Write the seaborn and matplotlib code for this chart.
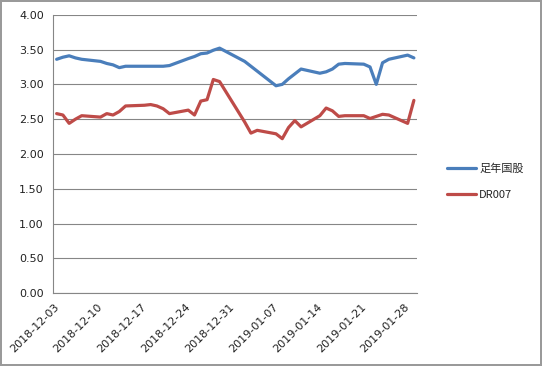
import matplotlib
matplotlib.use("Agg")
import matplotlib.pyplot as plt
import matplotlib.dates as mdates
import pandas as pd
import seaborn as sns

dates = [
    "2018-12-03", "2018-12-04", "2018-12-05", "2018-12-06", "2018-12-07",
    "2018-12-10", "2018-12-11", "2018-12-12", "2018-12-13", "2018-12-14",
    "2018-12-17", "2018-12-18", "2018-12-19", "2018-12-20", "2018-12-21",
    "2018-12-24", "2018-12-25", "2018-12-26", "2018-12-27", "2018-12-28", "2018-12-29",
    "2019-01-02", "2019-01-03", "2019-01-04",
    "2019-01-07", "2019-01-08", "2019-01-09", "2019-01-10", "2019-01-11",
    "2019-01-14", "2019-01-15", "2019-01-16", "2019-01-17", "2019-01-18",
    "2019-01-21", "2019-01-22", "2019-01-23", "2019-01-24", "2019-01-25",
    "2019-01-28", "2019-01-29",
]

guogu = [
    3.36, 3.39, 3.41, 3.38, 3.36,
    3.33, 3.30, 3.28, 3.24, 3.26,
    3.26, 3.26, 3.26, 3.26, 3.27,
    3.37, 3.40, 3.44, 3.45, 3.49, 3.52,
    3.33, 3.26, 3.19,
    2.98, 3.00, 3.08, 3.15, 3.22,
    3.16, 3.18, 3.22, 3.29, 3.30,
    3.29, 3.25, 3.00, 3.31, 3.36,
    3.42, 3.38,
]

dr007 = [
    2.58, 2.56, 2.44, 2.50, 2.55,
    2.53, 2.58, 2.56, 2.61, 2.69,
    2.70, 2.71, 2.69, 2.65, 2.58,
    2.63, 2.56, 2.76, 2.78, 3.07, 3.04,
    2.46, 2.30, 2.34,
    2.29, 2.22, 2.38, 2.48, 2.39,
    2.55, 2.66, 2.62, 2.54, 2.55,
    2.55, 2.51, 2.54, 2.57, 2.56,
    2.44, 2.77,
]

series_names = ["足年国股", "DR007"]
colors = ["#4A7EBB", "#BE4B48"]
tick_dates = ["2018-12-03", "2018-12-10", "2018-12-17", "2018-12-24", "2018-12-31",
              "2019-01-07", "2019-01-14", "2019-01-21", "2019-01-28"]

# Excel date axis puts each day in the middle of its slot
day = pd.to_datetime(dates) + pd.Timedelta(hours=12)
df = pd.concat([
    pd.DataFrame({"date": day, "value": guogu, "series": series_names[0]}),
    pd.DataFrame({"date": day, "value": dr007, "series": series_names[1]}),
])

sns.set_style("white")
plt.rcParams["font.family"] = ["DejaVu Sans", "Noto Sans CJK SC"]

fig = plt.figure(figsize=(5.42, 3.66), dpi=100, edgecolor="#9a9a9a", linewidth=1.5)
ax = fig.add_axes([0.0987, 0.1986, 0.6707, 0.7612])

sns.lineplot(data=df, x="date", y="value", hue="series", hue_order=series_names,
             palette=colors, linewidth=2.3, ax=ax, legend=True)

grey = "#868686"
ax.set_ylim(0, 4)
ax.set_yticks([i * 0.5 for i in range(9)])
ax.yaxis.set_major_formatter(plt.FormatStrFormatter("%.2f"))
ax.grid(axis="y", color=grey, linewidth=0.8)
ax.set_axisbelow(True)

ax.set_xlim(pd.Timestamp("2018-12-03"), pd.Timestamp("2019-01-30"))
ax.set_xticks(pd.to_datetime(tick_dates))
ax.xaxis.set_major_formatter(mdates.DateFormatter("%Y-%m-%d"))
for lab in ax.get_xticklabels():
    lab.set_rotation(45)
    lab.set_ha("right")
    lab.set_va("top")
    lab.set_rotation_mode("anchor")

for side in ["top", "right"]:
    ax.spines[side].set_visible(False)
for side in ["left", "bottom"]:
    ax.spines[side].set_color(grey)
    ax.spines[side].set_linewidth(0.8)

ax.tick_params(axis="both", which="major", direction="out", length=4, width=0.8,
               color=grey, labelsize=8, labelcolor="#222222")
ax.tick_params(axis="x", pad=2)
ax.tick_params(axis="y", pad=3)
ax.set_xlabel("")
ax.set_ylabel("")

handles, labels = ax.get_legend_handles_labels()
ax.legend(handles, labels, loc="center left", bbox_to_anchor=(0.806, 0.504),
          bbox_transform=fig.transFigure, frameon=False,
          handlelength=2.6, handletextpad=0.3, labelspacing=1.4,
          prop={"family": ["Noto Sans CJK SC", "DejaVu Sans"], "size": 8})

fig.savefig("out.png", dpi=100, edgecolor=fig.get_edgecolor())
